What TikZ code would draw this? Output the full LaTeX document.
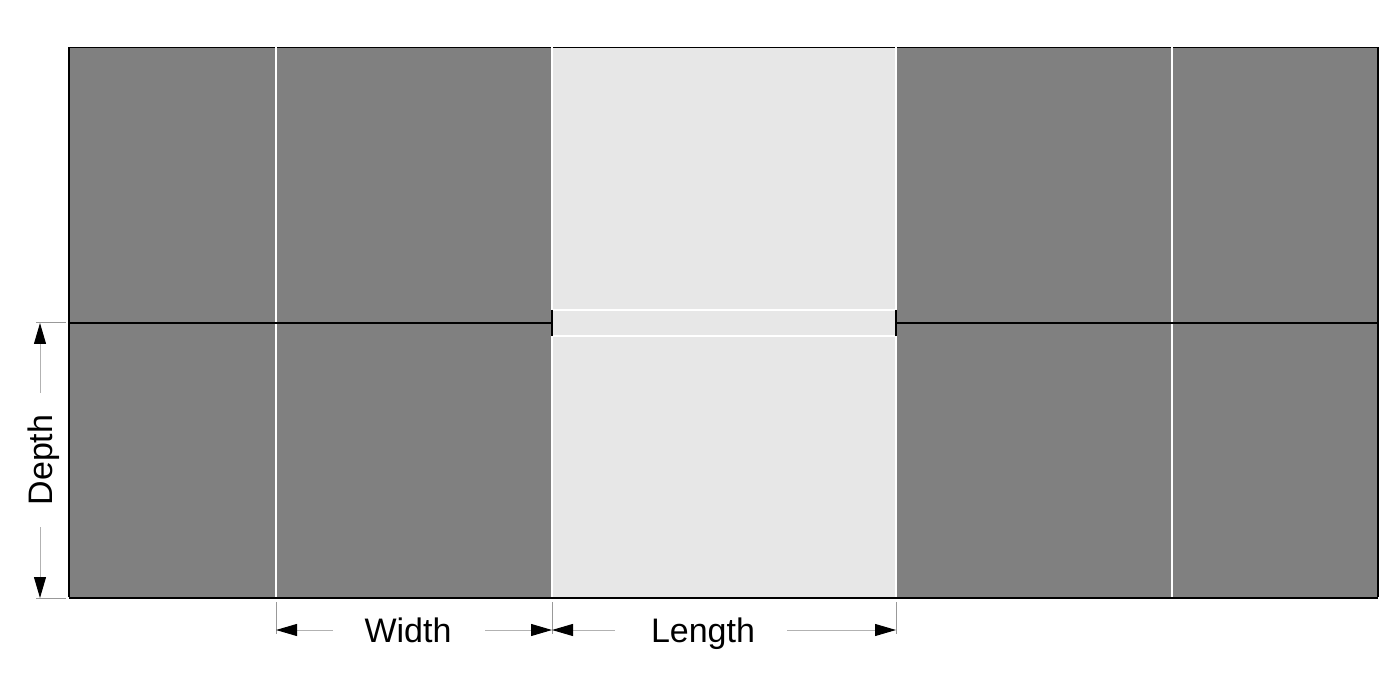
\documentclass[tikz,border=0pt]{standalone}
\usepackage{fontspec}
\setmainfont{Liberation Sans}
\usetikzlibrary{arrows.meta}
\tikzset{
  extline/.style={draw=black!40, line width=1pt},
  dimtip/.style={-{Triangle[length=21pt,width=12pt,color=black]}, draw=black!30, line width=1pt},
  sepline/.style={draw=white, line width=2.2pt},
  midline/.style={draw=black, line width=2pt},
  dimlabel/.style={font=\fontsize{34}{40}\selectfont, inner sep=0pt, anchor=base}
}
\begin{document}
\begin{tikzpicture}[x=1pt,y=-1pt]
\useasboundingbox (0,0) rectangle (1400,700);
% fills
\fill[black!49.8] (69,47) rectangle (1378,598);
\fill[black!9.5] (552,47) rectangle (896,598);
% white separators
\foreach \xx in {276,552,896,1172} \draw[sepline] (\xx,45) -- (\xx,597);
\draw[sepline] (552,310) -- (896,310);
\draw[sepline] (552,336) -- (896,336);
% border
\draw[black, line width=1.5pt] (69,597) -- (69,47.5) (1378,47.5) -- (1378,597);
\draw[black, line width=1.5pt] (69,598) -- (1378,598);
\foreach \a/\b in {69/275,277/551,553/895,897/1171,1173/1378} \draw[black, line width=1.5pt] (\a,47.5) -- (\b,47.5);
% middle line and ticks
\draw[midline] (69,323) -- (552,323);
\draw[midline] (896,323) -- (1378,323);
\draw[midline] (552,310) -- (552,336);
\draw[midline] (896,310) -- (896,336);
% depth dimension
\coordinate (dTop) at (40,323);
\coordinate (dBot) at (40,598);
\node[dimlabel, rotate=90] (depth) at (52,460) {Depth};
\draw[extline] (36,323) -- (66,323);
\draw[extline] (36,598) -- (66,598);
\draw[dimtip] (40,393) -- (dTop);
\draw[dimtip] (40,527) -- (dBot);
% width / length dimensions
\coordinate (wL) at (276,630);
\coordinate (wR) at (552,630);
\coordinate (lR) at (896,630);
\node[dimlabel] (width) at (408,642) {Width};
\node[dimlabel] (length) at (703,642) {Length};
\draw[extline] (276,602) -- (276,634);
\draw[extline] (552,602) -- (552,634);
\draw[extline] (896,602) -- (896,634);
\draw[dimtip] (333,630) -- (wL);
\draw[dimtip] (485,630) -- (wR);
\draw[dimtip] (615,630) -- (wR);
\draw[dimtip] (787,630) -- (lR);
\end{tikzpicture}
\end{document}
